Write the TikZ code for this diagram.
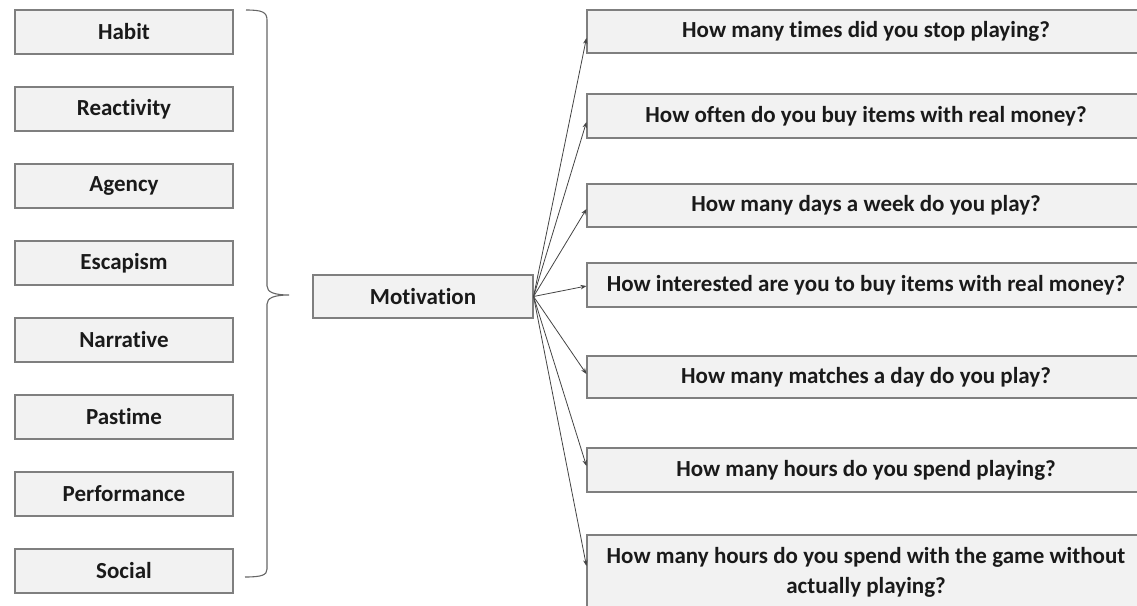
\documentclass[tikz,border=0pt]{standalone}
\usepackage{fontspec}
\setmainfont{Carlito}[Ligatures={NoCommon}]
\usetikzlibrary{arrows.meta}
\definecolor{boxfill}{HTML}{F2F2F2}
\definecolor{boxline}{HTML}{7F7F7F}
\definecolor{txt}{HTML}{1A1A1A}
\definecolor{conn}{HTML}{444444}
\tikzset{
  lbox/.style={draw=boxline, line width=1.1pt, fill=boxfill, minimum width=218pt, minimum height=44pt, inner sep=0pt, font=\fontsize{23}{30}\selectfont\bfseries, text=txt},
  mbox/.style={lbox, minimum width=220pt, minimum height=43pt},
  qbox/.style={lbox, minimum width=558pt, align=center},
  conarrow/.style={draw=conn, line width=0.8pt, -{Stealth[length=6pt,width=4.5pt]}},
  bracestyle/.style={draw=boxline!80!black, line width=1.1pt}
}
\begin{document}
\begin{tikzpicture}[x=1pt,y=-1pt]
\useasboundingbox (0,0) rectangle (1137,605);
% left boxes
\node[lbox] (habit) at (124,32) {Habit};
\node[lbox] (react) at (124,109) {Reactivity};
\node[lbox] (agency) at (124,186) {Agency};
\node[lbox] (escap) at (124,263) {Escapism};
\node[lbox] (narr) at (124,340) {Narrative};
\node[lbox] (past) at (124,417) {Pastime};
\node[lbox] (perf) at (124,494) {Performance};
\node[lbox] (social) at (124,571) {Social};
% brace
\draw[bracestyle] (246,10) .. controls (262,10) and (267,12) .. (267,20) -- (267,286)
  .. controls (267,292) and (274,295) .. (289,295)
  .. controls (274,295) and (267,298) .. (267,304) -- (267,569)
  .. controls (267,575) and (262,577) .. (245,577);
% motivation
\node[mbox] (mot) at (423,296.5) {Motivation};
% questions
\node[qbox, minimum height=43pt] (q1) at (866,31.5) {How many times did you stop playing?};
\node[qbox, minimum height=44pt] (q2) at (866,116) {How often do you buy items with real money?};
\node[qbox, minimum height=43pt] (q3) at (866,205.5) {How many days a week do you play?};
\node[qbox, minimum height=44pt] (q4) at (866,285) {How interested are you to buy items with real money?};
\node[qbox, minimum height=42pt] (q5) at (866,377) {How many matches a day do you play?};
\node[qbox, minimum height=44pt] (q6) at (866,470) {How many hours do you spend playing?};
\node[qbox, minimum height=74pt] (q7) at (866,572) {How many hours do you spend with the game without\\actually playing?};
% connectors
\draw[conarrow] (mot.east) -- ([yshift=-6.5pt]q1.west);
\draw[conarrow] (mot.east) -- ([yshift=-6pt]q2.west);
\draw[conarrow] (mot.east) -- ([yshift=-3.5pt]q3.west);
\draw[conarrow] (mot.east) -- ([yshift=-1pt]q4.west);
\draw[conarrow] (mot.east) -- ([yshift=3pt]q5.west);
\draw[conarrow] (mot.east) -- ([yshift=4pt]q6.west);
\draw[conarrow] (mot.east) -- ([yshift=6pt]q7.west);
\end{tikzpicture}
\end{document}
